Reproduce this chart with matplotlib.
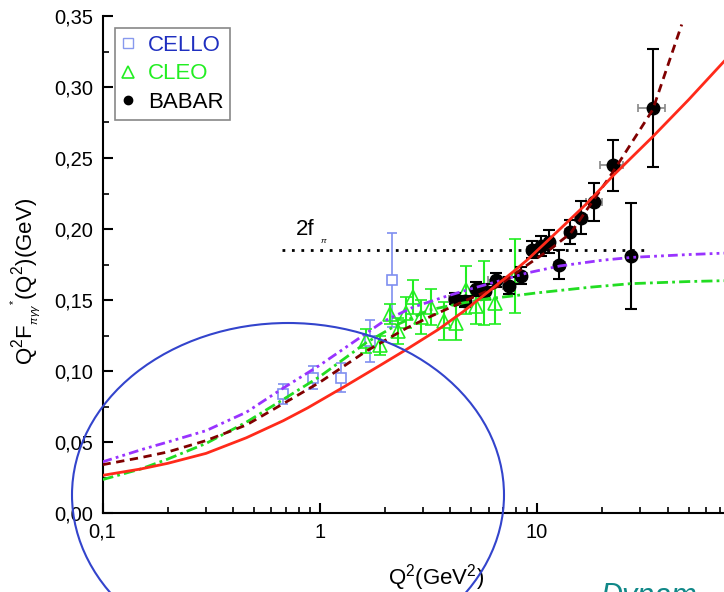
import numpy as np
import matplotlib.pyplot as plt
from matplotlib.lines import Line2D
from matplotlib.patches import Ellipse
from matplotlib.ticker import FixedLocator, MultipleLocator, FuncFormatter, NullFormatter

plt.rcParams['font.family'] = ['Liberation Sans', 'DejaVu Sans']
plt.rcParams['mathtext.fontset'] = 'custom'
plt.rcParams['mathtext.rm'] = 'Liberation Sans'
plt.rcParams['mathtext.it'] = 'Liberation Sans:italic'

# ---------------------------
# Data: Q^2 F(Q^2) for pi0 -> gamma gamma*
# ---------------------------
cello_q2 = [0.68, 0.93, 1.26, 1.70, 2.16]
cello_f = [0.084, 0.0954, 0.0954, 0.121, 0.164]
cello_err = [0.007, 0.008, 0.0105, 0.015, 0.033]

cleo_q2 = [1.64, 1.90, 2.10, 2.30, 2.50, 2.70, 2.94, 3.27, 3.75, 4.26, 4.73, 5.26, 5.73, 6.44, 7.96]
cleo_f = [0.121, 0.118, 0.140, 0.128, 0.141, 0.152, 0.138, 0.145, 0.135, 0.134, 0.157, 0.146, 0.155, 0.148, 0.167]
cleo_err = [0.0085, 0.007, 0.007, 0.009, 0.011, 0.012, 0.012, 0.0127, 0.0134, 0.0124, 0.017, 0.013, 0.0225, 0.015, 0.026]

babar_q2 = [4.21, 4.68, 5.26, 5.79, 6.47, 7.47, 8.48, 9.49, 10.49, 11.42, 12.70, 14.19, 15.95, 18.41, 22.35, 27.26, 34.18]
babar_f = [0.151, 0.149, 0.158, 0.156, 0.164, 0.160, 0.167, 0.1855, 0.188, 0.191, 0.175, 0.198, 0.208, 0.219, 0.245, 0.181, 0.285]
babar_err = [0.004, 0.004, 0.005, 0.005, 0.005, 0.006, 0.006, 0.006, 0.007, 0.008, 0.0105, 0.0085, 0.0117, 0.0135, 0.018, 0.037, 0.0415]
babar_q2_err = [0.25, 0.25, 0.25, 0.25, 0.5, 0.5, 0.5, 0.5, 0.5, 0.5, 0.75, 0.75, 1.0, 1.5, 2.7, 1.2, 4.9]

# theory curves
red_q2 = [0.1, 0.15, 0.2, 0.3, 0.46, 0.68, 0.88, 1.3, 1.9, 2.5, 3.5, 4.6, 6.0, 7.8, 9.0, 12.8, 17, 22.6, 34.2, 50, 72.8]
red_f = [0.0265, 0.031, 0.035, 0.042, 0.053, 0.065, 0.074, 0.089, 0.104, 0.115, 0.129, 0.142, 0.156, 0.170, 0.178, 0.200, 0.218, 0.238, 0.265, 0.291, 0.318]

maroon_q2 = [0.1, 0.15, 0.2, 0.3, 0.46, 0.68, 1.0, 1.64, 2.5, 3.2, 4.6, 6.5, 9.3, 11.6, 14.3, 22.3, 34.2, 46.5]
maroon_f = [0.034, 0.039, 0.043, 0.051, 0.062, 0.077, 0.092, 0.114, 0.130, 0.138, 0.149, 0.159, 0.176, 0.186, 0.197, 0.2396, 0.284, 0.344]

violet_q2 = [0.1, 0.154, 0.2, 0.3, 0.46, 0.68, 1.0, 1.33, 1.97, 2.7, 3.72, 5.0, 6.57, 9.0, 12.8, 20, 27.3, 50, 72.8]
violet_f = [0.036, 0.045, 0.050, 0.058, 0.071, 0.088, 0.104, 0.117, 0.135, 0.145, 0.152, 0.158, 0.163, 0.169, 0.174, 0.178, 0.180, 0.182, 0.183]

green_q2 = [0.1, 0.15, 0.2, 0.3, 0.46, 0.68, 1.0, 1.64, 2.3, 3.2, 4.6, 6.0, 7.5, 10, 17.6, 27, 50, 72.8]
green_f = [0.0235, 0.031, 0.038, 0.049, 0.064, 0.080, 0.096, 0.120, 0.133, 0.143, 0.148, 0.151, 0.1526, 0.155, 0.159, 0.1615, 0.163, 0.1636]

twofpi = 0.1855
twofpi_q2 = [0.67, 32.2]

# ---------------------------
# Figure
# ---------------------------
fig = plt.figure(figsize=(7.24, 5.92), dpi=100)
ax = fig.add_axes([102.5 / 724, 79 / 592, 621.5 / 724, 497 / 592])
ax.set_xscale('log')
ax.set_xlim(0.1, 72.8)
ax.set_ylim(0, 0.35)

# experimental points
ax.errorbar(cello_q2, cello_f, yerr=cello_err, fmt='s', ms=6.5, mfc='white', mec='#7f8ff0',
            mew=1.2, ecolor='#7f8ff0', elinewidth=1.2, capsize=3.5, capthick=1.2, zorder=3)
ax.errorbar(cleo_q2, cleo_f, yerr=cleo_err, fmt='^', ms=10, mfc='none', mec='#22ee22',
            mew=1.2, ecolor='#22ee22', elinewidth=1.5, capsize=4, capthick=1.5, zorder=3)
ax.errorbar(babar_q2, babar_f, xerr=babar_q2_err, fmt='none', ecolor='#888888',
            elinewidth=1.2, capsize=3, capthick=1.2, zorder=3)
ax.errorbar(babar_q2, babar_f, yerr=babar_err, fmt='o', ms=9, color='black',
            ecolor='black', elinewidth=1.5, capsize=4.5, capthick=1.5, zorder=4)

# model curves
ax.plot(green_q2, green_f, color='#22dd22', lw=2, dashes=(4, 1.5, 1, 1.5), zorder=5)
ax.plot(violet_q2, violet_f, color='#9933ff', lw=2, dashes=(3.5, 1.5, 1, 1.5, 1, 1.5), zorder=5)
ax.plot(maroon_q2, maroon_f, color='#800000', lw=2, dashes=(3, 2), zorder=5)
ax.plot(red_q2, red_f, color='#ff2a1a', lw=2, zorder=6)

ax.plot(twofpi_q2, [twofpi, twofpi], color='black', lw=2, ls=(0, (1, 2.4)), zorder=5)
ax.text(0.775, 0.1925, '2f', fontsize=16, ha='left', va='bottom')
ax.text(1.0, 0.1885, r'$\pi$', fontsize=6, ha='left', va='bottom')

# axes styling
for side in ['top', 'right']:
    ax.spines[side].set_visible(False)
for side in ['left', 'bottom']:
    ax.spines[side].set_linewidth(1.5)

ax.xaxis.set_major_locator(FixedLocator([0.1, 1, 10]))
ax.xaxis.set_minor_locator(FixedLocator([m * d for d in [0.1, 1, 10] for m in range(2, 10)]))
ax.xaxis.set_minor_formatter(NullFormatter())
ax.xaxis.set_major_formatter(FuncFormatter(lambda v, p: ('%g' % v).replace('.', ',')))
ax.yaxis.set_major_locator(MultipleLocator(0.05))
ax.yaxis.set_minor_locator(MultipleLocator(0.025))
ax.yaxis.set_major_formatter(FuncFormatter(lambda v, p: ('%.2f' % v).replace('.', ',')))
ax.tick_params(which='major', direction='in', length=7, width=1.5, labelsize=14.5, pad=7)
ax.tick_params(which='minor', direction='in', length=4, width=1.2)

ax.set_xlabel(r'Q$^2$(GeV$^2$)', fontsize=16)
ax.xaxis.set_label_coords(0.537, -0.098)
ax.set_ylabel(r'Q$^2$F$_{_{\pi\gamma\gamma}}{}^{^{*}}$(Q$^2$)(GeV)', fontsize=16)
ax.yaxis.set_label_coords(-0.096, 0.465)

# legend
handles = [
    Line2D([], [], ls='none', marker='s', ms=7, mfc='white', mec='#8899ee', mew=1),
    Line2D([], [], ls='none', marker='^', ms=9, mfc='none', mec='#22ee22', mew=1.2),
    Line2D([], [], ls='none', marker='o', ms=6, color='black'),
]
leg = ax.legend(handles, ['CELLO', 'CLEO', 'BABAR'], loc='upper left',
                bbox_to_anchor=(12 / 621.5, 1 - 12 / 497), fontsize=16,
                labelcolor=['#1f2fc0', '#22ee22', 'black'], handlelength=0.6,
                handletextpad=0.6, borderpad=0.3, labelspacing=0.35, fancybox=False,
                framealpha=1, edgecolor='#888888', borderaxespad=0)
leg.get_frame().set_linewidth(1.2)

# highlighted low-Q^2 region
ell = Ellipse((288 / 724, 1 - 495 / 592), 432 / 724, 344 / 592, transform=fig.transFigure,
              fill=False, edgecolor='#3344cc', lw=1.5, zorder=10)
fig.add_artist(ell)

fig.text(600 / 724, -0.022, 'Dynam', color='#118888', fontsize=22, style='italic')

fig.savefig('out.png', dpi=100)
